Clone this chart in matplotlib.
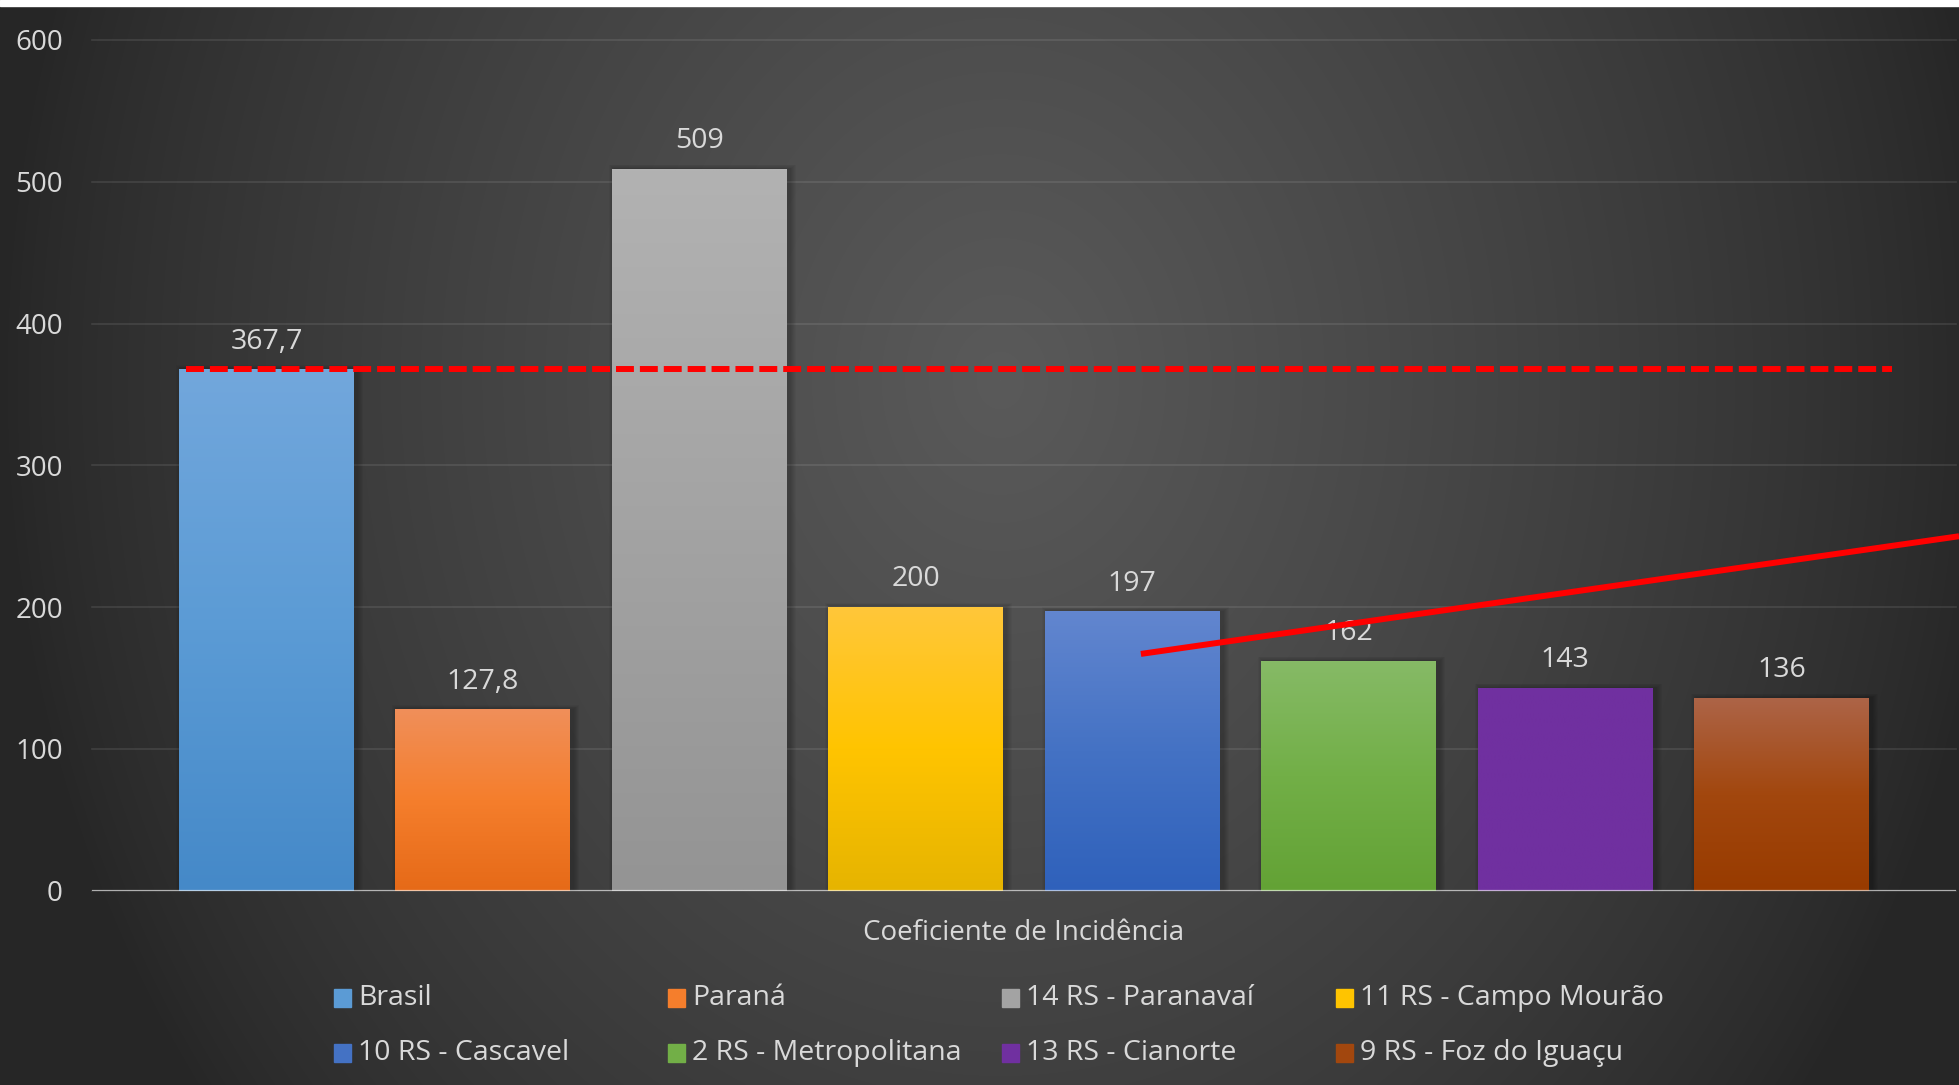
"""Coeficiente de incidência por regional de saúde - bar chart on dark background."""
import matplotlib
matplotlib.use('Agg')
import matplotlib.pyplot as plt
import numpy as np
from matplotlib.colors import to_rgb
from matplotlib.patches import Rectangle

plt.rcParams['font.family'] = ['Open Sans', 'DejaVu Sans']

REGIONS = ['Brasil', 'Paraná', '14 RS - Paranavaí', '11 RS - Campo Mourão',
           '10 RS - Cascavel', '2 RS - Metropolitana', '13 RS - Cianorte',
           '9 RS - Foz do Iguaçu']
VALUES = [367.7, 127.8, 509, 200, 197, 162, 143, 136]
VALUE_LABELS = ['367,7', '127,8', '509', '200', '197', '162', '143', '136']
Y_TICKS = [0, 100, 200, 300, 400, 500, 600]
XLABEL = 'Coeficiente de Incidência'

# gradient stops per bar: top, middle, bottom
TOP = ['#72A7DC', '#F08F5A', '#B2B2B2', '#FFC73A', '#6286CF', '#86BA66', '#7030A0', '#AD6447']
MID = ['#5B9BD5', '#F57E2C', '#A3A3A3', '#FFC400', '#4472C4', '#72AF47', '#7030A0', '#A2470E']
BOT = ['#4589C8', '#E66A18', '#949494', '#E6B400', '#2F61BB', '#63A235', '#7030A0', '#983B00']

# red reference line at Brasil's value and the hand drawn red line
REF_VALUE = 367.7
REF_SPAN = [-0.37, 7.51]
TREND_X = [4.04, 7.82]
TREND_Y = [167, 250]

W, H = 1959, 1085
TXT = '#D9D9D9'

fig = plt.figure(figsize=(W / 100, H / 100), dpi=100)

# radial dark background
bg = fig.add_axes([0, 0, 1, 1])
yy, xx = np.mgrid[0:H, 0:W]
r = np.sqrt(((xx - 1000) / 1000.0) ** 2 + ((yy - 380) / 1200.0) ** 2)
b = 38 + 52 * np.clip(1 - r, 0, 1) ** 0.8
img = np.dstack([b, b, b]) / 255.0
bg.imshow(img, extent=[0, W, H, 0], aspect='auto', interpolation='bilinear')
bg.set_xlim(0, W)
bg.set_ylim(H, 0)
bg.axis('off')
fig.patches.append(Rectangle((0, 1 - 6 / H), 1, 6 / H, transform=fig.transFigure,
                             color='white', zorder=10))

y0_px, y600_px = 890.7, 40
ax = fig.add_axes([92 / W, (H - y0_px) / H, 1864 / W, (y0_px - y600_px) / H])
ax.patch.set_alpha(0)

x = np.arange(len(VALUES))
width = 0.808
px = 1 / 216.5  # one pixel in x data units
bars = ax.bar(x, VALUES, width, color='none', zorder=3)


def grad(top, mid, bot, n=200):
    t = np.linspace(0, 1, n)[:, None]
    c1, c2, c3 = (np.array(to_rgb(c)) for c in (top, mid, bot))
    up = c1 + (c2 - c1) * np.clip(t * 2, 0, 1)
    low = c2 + (c3 - c2) * np.clip(t * 2 - 1, 0, 1)
    g = np.where(t < 0.5, up, low)
    return g[:, None, :]


for i, bar in enumerate(bars):
    x0 = bar.get_x()
    h = bar.get_height()
    # soft shadow
    for k in range(1, 7):
        ax.add_patch(Rectangle((x0 + 3 * px - k * px, 0), width + 2 * k * px, h + k * 0.5,
                               color='black', alpha=0.035, lw=0, zorder=2))
    ax.imshow(grad(TOP[i], MID[i], BOT[i]), extent=[x0, x0 + width, 0, h],
              aspect='auto', zorder=3, interpolation='bilinear')
    ax.text(x[i], h + 19.5, VALUE_LABELS[i], ha='center', va='center',
            fontsize=20.5, color=TXT, zorder=5)

ax.plot(REF_SPAN, [REF_VALUE, REF_VALUE], color='red', lw=4.3, dashes=(3, 1),
        dash_capstyle='butt', zorder=6)
ax.plot(TREND_X, TREND_Y, color='red', lw=4.3, solid_capstyle='butt',
        clip_on=False, zorder=6)

ax.axhline(0, color='white', alpha=0.6, lw=1.6, zorder=4)
ax.set_yticks(Y_TICKS)
ax.set_xticks([])
ax.grid(axis='y', color='white', alpha=0.1, lw=1.2)
for gl in ax.get_ygridlines():
    gl.set_clip_on(False)
ax.set_axisbelow(True)
ax.tick_params(axis='y', length=0, pad=21, labelsize=20, labelcolor=TXT)
for s in ax.spines.values():
    s.set_visible(False)
ax.set_xlim(-0.806, 7.806)
ax.set_ylim(0, 600)

fig.text(1024 / W, (H - 933) / H, XLABEL, ha='center', va='center',
         fontsize=20, color=TXT)

# legend, four equal columns
for i, name in enumerate(REGIONS):
    col, row = i % 4, i // 4
    lx = 334 + col * 334
    ly = 998 + row * 55
    fig.patches.append(Rectangle((lx / W, (H - ly - 9) / H), 17 / W, 18 / H,
                                 transform=fig.transFigure, color=MID[i], zorder=5))
    fig.text((lx + 24) / W, (H - ly) / H, name, ha='left', va='center',
             fontsize=20.5, color=TXT)

fig.savefig('out.png', dpi=100)
